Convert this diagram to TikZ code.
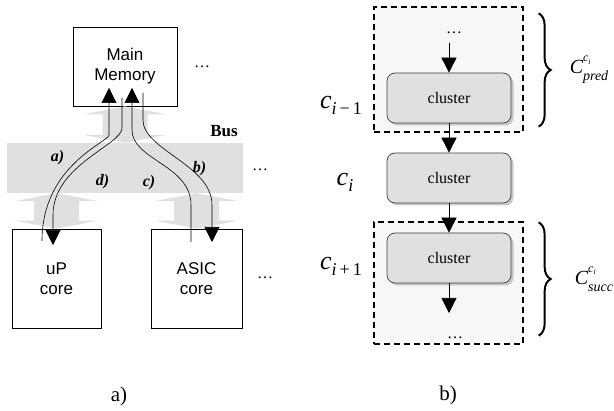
\documentclass[tikz,border=0pt]{standalone}
\usepackage{fontspec}
\setmainfont{Liberation Serif}
\setsansfont{Liberation Sans}
\definecolor{busGray}{RGB}{224,224,224}
\definecolor{grpGray}{RGB}{247,247,247}
\definecolor{shdGray}{RGB}{150,150,150}
\usetikzlibrary{arrows.meta,positioning,calc,shadows,decorations.pathreplacing}

\begin{document}
\begin{tikzpicture}[x=1pt, y=-1pt,
  box/.style={draw, line width=0.8pt, fill=white, align=center,
              font=\sffamily\fontsize{17}{20}\selectfont},
  band/.style={fill=busGray, inner sep=0pt, minimum width=236pt, minimum height=50pt},
  wide/.style={fill=busGray},
  flow/.style={-{Triangle[length=15pt, width=15pt]}, line width=0.6pt},
  lbl/.style={font=\bfseries\itshape\fontsize{16}{18}\selectfont},
  dots/.style={font=\fontsize{16}{18}\selectfont, inner sep=0pt},
  clu/.style={draw=black!75, line width=0.7pt, fill=busGray, rounded corners=8pt,
              minimum width=124pt, minimum height=50pt, font=\fontsize{16}{18}\selectfont,
              drop shadow={shadow xshift=2.5pt, shadow yshift=-2.5pt, fill=shdGray}},
  grp/.style={draw, line width=1.3pt, dash pattern=on 6pt off 4pt, fill=grpGray,
              minimum width=149pt},
  brc/.style={decorate, decoration={brace, amplitude=12pt}, line width=2pt},
  mth/.style={font=\itshape\fontsize{26}{30}\selectfont, inner sep=1pt},
  setlbl/.style={font=\itshape\fontsize{20}{24}\selectfont, inner sep=1pt},
  captxt/.style={font=\fontsize{21}{24}\selectfont}
]
  \useasboundingbox (0,0) rectangle (614,411);

  \node[band] (bus) at (125,168) {};
  \node[box, minimum width=104pt, minimum height=79pt] (mem) at (125,66.5) {Main\\Memory};
  \node[box, minimum width=89pt, minimum height=99pt] (up) at (56.5,278.5) {uP\\core};
  \node[box, minimum width=91pt, minimum height=99pt] (asic) at (196.5,278.5) {ASIC\\core};

  \foreach \n/\t/\b in {mem/mem.south/bus.north, up/bus.south/up.north, asic/bus.south/asic.north} {
    \coordinate (t) at (\n.center |- \t);
    \coordinate (b) at (\n.center |- \b);
    \fill[wide] (t) -- ($(t)+(42,8)$) -- ($(t)+(22.5,8)$) -- ($(b)+(22.5,-8)$)
      -- ($(b)+(42,-8)$) -- (b) -- ($(b)+(-42,-8)$) -- ($(b)+(-22.5,-8)$)
      -- ($(t)+(-22.5,8)$) -- ($(t)+(-42,8)$) -- cycle;
  }

  \node[font=\bfseries\fontsize{17}{20}\selectfont] (buslbl) at (224,131) {Bus};
  \node[dots] (memdots) at (202,67) {…};
  \node[dots] (busdots) at (260,170) {…};
  \node[dots] (coredots) at (265,278) {…};

  \coordinate (aS) at (42,241);  \coordinate (aE) at (109,88);
  \coordinate (dS) at (122,98);  \coordinate (dE) at (53,245);
  \coordinate (cS) at (191,242); \coordinate (cE) at (132,88);
  \coordinate (bS) at (143,93);  \coordinate (bE) at (212,242);
  \draw[flow] (aS) .. controls (42,165) and (109,142) .. (109,135) -- (aE);
  \draw[flow] (dS) -- (122,128) .. controls (122,145) and (53,165) .. (53,215) -- (dE);
  \draw[flow] (cS) -- (191,205) .. controls (191,165) and (132,160) .. (132,130) -- (cE);
  \draw[flow] (bS) -- (143,120) .. controls (143,150) and (212,165) .. (212,205) -- (bE);

  \node[lbl] (la) at (57.5,157.5) {a)};
  \node[lbl] (ld) at (102.5,181.5) {d)};
  \node[lbl] (lc) at (149,183) {c)};
  \node[lbl] (lb) at (199.5,168.5) {b)};

  \node[grp, minimum height=125pt] (pred) at (448.5,69.5) {};
  \node[grp, minimum height=122pt] (succ) at (448.5,283) {};
  \node[clu] (cl1) at (449,98) {cluster};
  \node[clu] (cl2) at (449,178) {cluster};
  \node[clu] (cl3) at (449,258) {cluster};
  \node[dots] (topdots) at (454,33) {…};
  \node[dots] (botdots) at (455,338) {…};
  \coordinate (inflow) at (449,43);
  \coordinate (outflow) at (449,313);
  \draw[flow] (inflow) -- (cl1);
  \draw[flow] (cl1) -- (cl2);
  \draw[flow] (cl2) -- (cl3);
  \draw[flow] (cl3) -- (outflow);

  \draw[brc] ($(pred.north east)+(15,7)$) -- ($(pred.south east)+(15,-6)$);
  \draw[brc] ($(succ.north east)+(15,1)$) -- ($(succ.south east)+(15,-9)$);

  \node[mth] (cprev) at (341,105) {c\raisebox{-6pt}{\fontsize{18}{18}\selectfont i\,\upshape −\,1}};
  \node[mth] (ccur) at (345,182) {c\raisebox{-6pt}{\fontsize{18}{18}\selectfont i}};
  \node[mth] (cnext) at (341,266) {c\raisebox{-6pt}{\fontsize{18}{18}\selectfont i\,\upshape +\,1}};
  \node[setlbl] (cpred) at (589,70) {C\rlap{\raisebox{12pt}{\fontsize{12}{12}\selectfont c\raisebox{-2.5pt}{\fontsize{8}{8}\selectfont i}}}\raisebox{-7pt}{\fontsize{14}{14}\selectfont pred}};
  \node[setlbl] (csucc) at (594,279) {C\rlap{\raisebox{12pt}{\fontsize{12}{12}\selectfont c\raisebox{-2.5pt}{\fontsize{8}{8}\selectfont i}}}\raisebox{-7pt}{\fontsize{14}{14}\selectfont succ}};

  \node[captxt] (capa) at (119,396) {a)};
  \node[captxt] (capb) at (448,395) {b)};
\end{tikzpicture}
\end{document}
